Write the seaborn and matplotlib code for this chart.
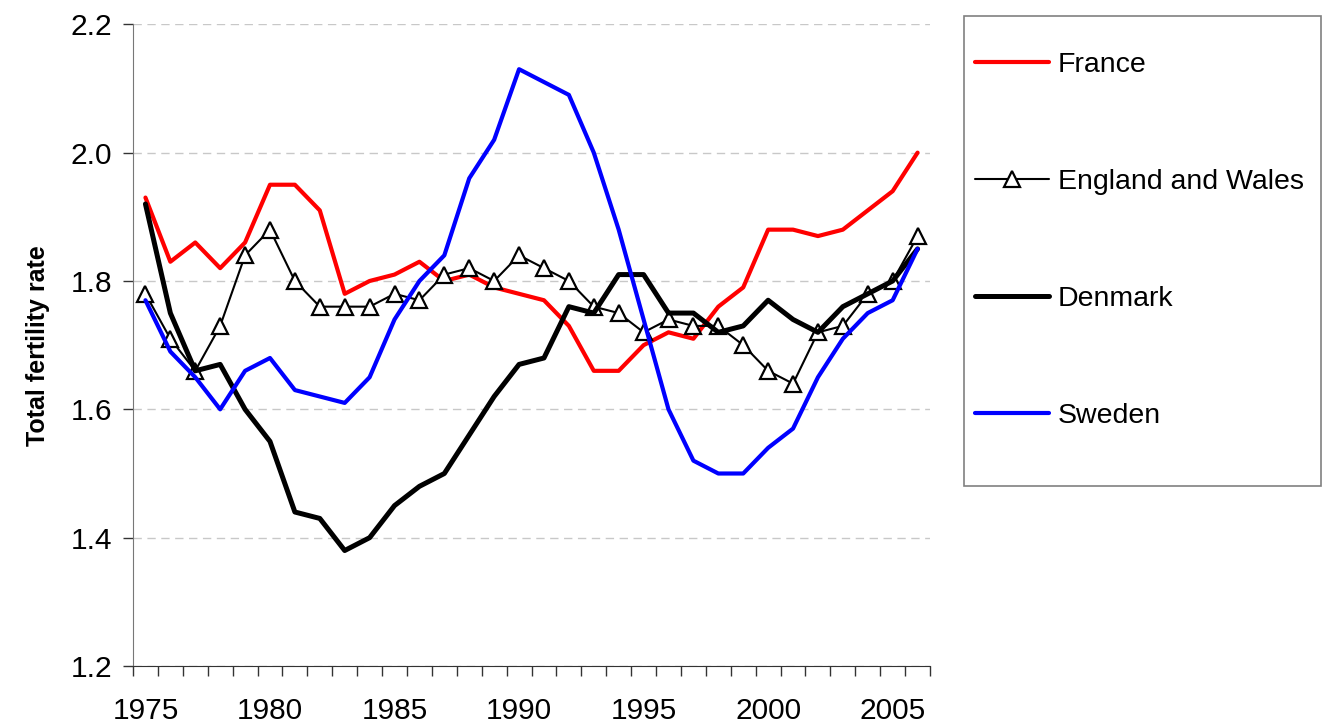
import numpy as np
import pandas as pd
import matplotlib
matplotlib.use("Agg")
import matplotlib.pyplot as plt
from matplotlib.patches import Rectangle
import seaborn as sns

years = list(range(1975, 2007))

france = [1.93, 1.83, 1.86, 1.82, 1.86, 1.95, 1.95, 1.91, 1.78, 1.80,
          1.81, 1.83, 1.80, 1.81, 1.79, 1.78, 1.77, 1.73, 1.66, 1.66,
          1.70, 1.72, 1.71, 1.76, 1.79, 1.88, 1.88, 1.87, 1.88, 1.91,
          1.94, 2.00]
england_wales = [1.78, 1.71, 1.66, 1.73, 1.84, 1.88, 1.80, 1.76, 1.76, 1.76,
                 1.78, 1.77, 1.81, 1.82, 1.80, 1.84, 1.82, 1.80, 1.76, 1.75,
                 1.72, 1.74, 1.73, 1.73, 1.70, 1.66, 1.64, 1.72, 1.73, 1.78,
                 1.80, 1.87]
denmark = [1.92, 1.75, 1.66, 1.67, 1.60, 1.55, 1.44, 1.43, 1.38, 1.40,
           1.45, 1.48, 1.50, 1.56, 1.62, 1.67, 1.68, 1.76, 1.75, 1.81,
           1.81, 1.75, 1.75, 1.72, 1.73, 1.77, 1.74, 1.72, 1.76, 1.78,
           1.80, 1.85]
sweden = [1.77, 1.69, 1.65, 1.60, 1.66, 1.68, 1.63, 1.62, 1.61, 1.65,
          1.74, 1.80, 1.84, 1.96, 2.02, 2.13, 2.11, 2.09, 2.00, 1.88,
          1.74, 1.60, 1.52, 1.50, 1.50, 1.54, 1.57, 1.65, 1.71, 1.75,
          1.77, 1.85]

df = pd.DataFrame({"year": years, "France": france,
                   "England and Wales": england_wales,
                   "Denmark": denmark, "Sweden": sweden})

sns.set_style("white")
plt.rcParams["font.family"] = ["Liberation Sans", "DejaVu Sans"]
plt.rcParams["text.color"] = "black"
plt.rcParams["axes.labelcolor"] = "black"
plt.rcParams["xtick.color"] = "black"
plt.rcParams["ytick.color"] = "black"

fig = plt.figure(figsize=(13.22, 7.23), dpi=100)
ax = fig.add_axes([0.1006, 0.0788, 0.6029, 0.8876])

# grid first so lines sit over it
ax.set_axisbelow(True)
ax.yaxis.grid(True, linestyle=(0, (6, 4)), color="#c8c8c8", lw=1)

sns.lineplot(data=df, x="year", y="France", ax=ax, color="#ff0000",
             lw=3.0, label="France")
sns.lineplot(data=df, x="year", y="England and Wales", ax=ax, color="black",
             lw=1.5, marker="^", markersize=12, markerfacecolor="white",
             markeredgecolor="black", markeredgewidth=1.6,
             label="England and Wales")
sns.lineplot(data=df, x="year", y="Denmark", ax=ax, color="black",
             lw=3.6, label="Denmark")
sns.lineplot(data=df, x="year", y="Sweden", ax=ax, color="#0000ff",
             lw=3.0, label="Sweden")

ax.set_xlim(1974.5, 2006.5)
ax.set_ylim(1.2, 2.2)
ax.set_yticks(np.arange(1.2, 2.21, 0.2))
ax.set_yticklabels([f"{v:.1f}" for v in np.arange(1.2, 2.21, 0.2)])
ax.set_xticks(range(1975, 2006, 5))
ax.set_xticks(np.arange(1974.5, 2007, 1), minor=True)
ax.tick_params(axis="x", which="major", length=0, pad=22, labelsize=21.5)
ax.tick_params(axis="x", which="minor", length=7, width=1, direction="out",
               color="#333333", bottom=True)
ax.tick_params(axis="y", which="major", length=7, width=1, direction="out",
               color="#333333", left=True, pad=8, labelsize=21.5)

for side in ["top", "right"]:
    ax.spines[side].set_visible(False)
ax.spines["left"].set_color("#777777")
ax.spines["bottom"].set_color("#333333")

ax.set_xlabel("")
ax.set_ylabel("Total fertility rate", fontsize=18, fontweight="bold",
              labelpad=15)

handles, labels = ax.get_legend_handles_labels()
if ax.get_legend() is not None:
    ax.get_legend().remove()
fig.legend(handles, labels, loc="center left",
           bbox_to_anchor=(0.7375, 0.6675), frameon=False, fontsize=20.5,
           labelspacing=3.2, handlelength=2.6, handletextpad=0.3,
           borderpad=0, borderaxespad=0)
fig.add_artist(Rectangle((0.729, 0.328), 0.27, 0.65,
                         transform=fig.transFigure, fill=False,
                         edgecolor="#808080", lw=1.2))

fig.savefig("out.png", dpi=100)
